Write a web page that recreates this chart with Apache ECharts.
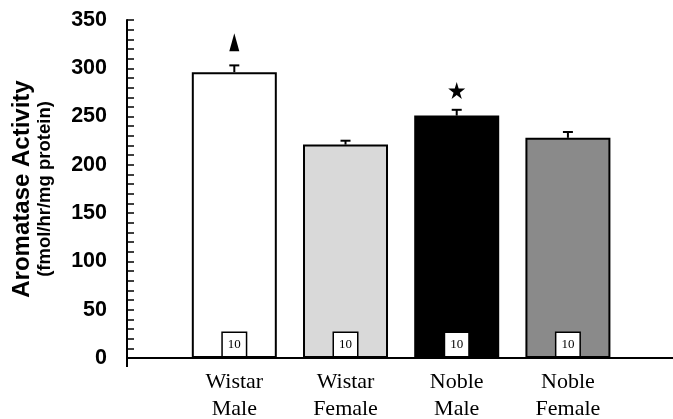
<!DOCTYPE html>
<html>
<head>
<meta charset="utf-8">
<script src="https://cdn.jsdelivr.net/npm/echarts@6/dist/echarts.min.js"></script>
<style>html,body{margin:0;padding:0;background:#fff}#c{width:673px;height:419px}</style>
</head>
<body>
<div id="c"></div>
<script>
// ---- data ----
const categories = ['Wistar\nMale', 'Wistar\nFemale', 'Noble\nMale', 'Noble\nFemale'];
const meanValues = [296, 221, 251, 228];
const upperErrors = [303, 225, 257, 234];
const sampleSizes = [10, 10, 10, 10];
const barColors = ['#ffffff', '#d9d9d9', '#000000', '#8a8a8a'];
const yTickValues = [0, 50, 100, 150, 200, 250, 300, 350];
const triangleMarks = [[1, 327]];
const starMarks = [[3, 277]];
const yName = 'Aromatase Activity';
const yUnit = '(fmol/hr/mg protein)';

const positions = categories.map((c, i) => i + 1);
const xMin = 0.035, xMax = 4.945;

const chart = echarts.init(document.getElementById('c'), null, {renderer: 'canvas'});
const option = {
  animation: false,
  backgroundColor: '#fff',
  grid: {left: 127, right: 0, top: 20, bottom: 61, containLabel: false, outerBoundsMode: 'none'},
  xAxis: {
    type: 'value', min: xMin, max: xMax,
    axisLine: {show: true, onZero: false, lineStyle: {color: '#000', width: 2}},
    axisTick: {show: true, customValues: [xMin], length: 9, inside: false, lineStyle: {color: '#000', width: 2}},
    axisLabel: {
      customValues: positions,
      formatter: v => categories[Math.round(v) - 1] || '',
      fontFamily: 'Liberation Serif', fontSize: 22, lineHeight: 27, color: '#000', margin: 11
    },
    splitLine: {show: false}
  },
  yAxis: {
    type: 'value', min: 0, max: 350, interval: 50,
    name: '{a|' + yName + '}\n{b|' + yUnit + '}',
    nameLocation: 'middle', nameRotate: 90, nameGap: 72,
    nameTextStyle: {
      rich: {
        a: {fontFamily: 'Liberation Sans', fontWeight: 'bold', fontSize: 24, lineHeight: 25, color: '#000'},
        b: {fontFamily: 'Liberation Sans', fontWeight: 'bold', fontSize: 18.5, lineHeight: 20, color: '#000'}
      }
    },
    axisLine: {show: true, lineStyle: {color: '#000', width: 2}},
    axisTick: {show: true, inside: true, length: 7, lineStyle: {color: '#000', width: 1.5}},
    minorTick: {show: true, splitNumber: 5, length: 7, lineStyle: {color: '#000', width: 1.5}},
    axisLabel: {
      customValues: yTickValues,
      fontFamily: 'Liberation Sans', fontWeight: 'bold', fontSize: 21.5, color: '#000', margin: 20
    },
    splitLine: {show: false}
  },
  series: [
    {
      type: 'bar', barWidth: 85,
      data: positions.map((p, i) => ({
        value: [p, meanValues[i]],
        itemStyle: {color: barColors[i], borderColor: '#000', borderWidth: 2}
      })),
      label: {
        show: true, position: 'insideBottom', distance: 2,
        formatter: p => String(sampleSizes[p.dataIndex]),
        fontFamily: 'Liberation Serif', fontSize: 13, lineHeight: 15, color: '#000',
        backgroundColor: '#fff', borderColor: '#000', borderWidth: 1.5, padding: [4, 5]
      },
      z: 2
    },
    {
      type: 'custom',
      data: positions.map((p, i) => [p, meanValues[i], upperErrors[i]]),
      renderItem: (params, api) => {
        const p0 = api.coord([api.value(0), api.value(1)]);
        const p1 = api.coord([api.value(0), api.value(2)]);
        return {
          type: 'group',
          children: [
            {type: 'line', shape: {x1: p0[0], y1: p0[1], x2: p1[0], y2: p1[1]}, style: {stroke: '#000', lineWidth: 2}},
            {type: 'line', shape: {x1: p1[0] - 5, y1: p1[1], x2: p1[0] + 5, y2: p1[1]}, style: {stroke: '#000', lineWidth: 2}}
          ]
        };
      },
      z: 3
    },
    {
      type: 'scatter', data: triangleMarks, symbol: 'triangle', symbolSize: [10, 18],
      itemStyle: {color: '#000', opacity: 1}, z: 4
    },
    {
      type: 'scatter', data: starMarks,
      symbol: 'path://M50,0 L61,35 L98,35 L68,57 L79,91 L50,70 L21,91 L32,57 L2,35 L39,35 Z',
      symbolSize: 17, itemStyle: {color: '#000', opacity: 1}, z: 4
    }
  ]
};
chart.setOption(option);
</script>
</body>
</html>
